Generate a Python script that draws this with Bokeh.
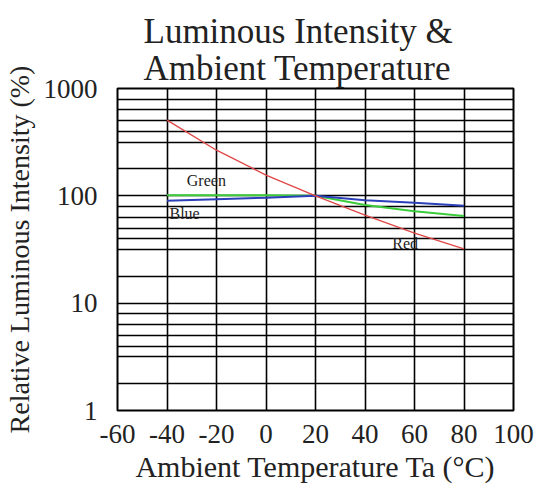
from bokeh.plotting import figure
from bokeh.models import FixedTicker
from bokeh.core.properties import value
from bokeh.embed import file_html
from bokeh.resources import INLINE

# Data
temp = [-40, -20, 0, 20, 40, 60, 80]
red = [507, 266, 156, 100, 66, 45, 32]
green = [101, 101, 101, 100, 82, 72, 65]
blue = [90, 93, 96, 100, 91, 86, 81]

x_ticks = [-60, -40, -20, 0, 20, 40, 60, 80, 100]
x_labels = ["-60", "-40", "-20", "0", "20", "40", "60", "80", "100"]
y_ticks = [1, 10, 100, 1000]
y_labels = ["1", "10", "100", "1000"]
# horizontal rules inside each decade, as drawn on the reference
minor_steps = [1.78, 3.16, 3.98, 5.01, 6.31, 7.94]
y_minor = [m * d for d in (1, 10, 100) for m in minor_steps]

SERIF = "Liberation Serif"
INK = "#222222"

p = figure(width=536, height=492, x_range=(-60, 100), y_range=(1, 1000),
           y_axis_type="log", output_backend="svg", toolbar_location=None,
           min_border_left=116, min_border_right=23, min_border_top=88,
           min_border_bottom=82)

p.title.text = "Luminous Intensity &\nAmbient Temperature"
p.title.align = "left"
p.title.offset = 26
p.title.standoff = 0
p.title.text_font = SERIF
p.title.text_font_size = "35px"
p.title.text_font_style = "normal"
p.title.text_line_height = 0.95
p.title.text_color = INK

p.outline_line_color = "black"
p.outline_line_width = 2
p.outline_line_alpha = 1

p.xaxis.ticker = FixedTicker(ticks=x_ticks)
p.xaxis.major_label_overrides = dict(zip(x_ticks, x_labels))
p.yaxis.ticker = FixedTicker(ticks=y_ticks, minor_ticks=y_minor)
p.yaxis.major_label_overrides = dict(zip(y_ticks, y_labels))

for ax in (p.xaxis[0], p.yaxis[0]):
    ax.axis_line_color = None
    ax.major_tick_line_color = None
    ax.minor_tick_line_color = None
    ax.major_label_text_font = SERIF
    ax.major_label_text_font_size = "27px"
    ax.major_label_text_color = INK
    ax.axis_label_text_font = SERIF
    ax.axis_label_text_font_style = "normal"
    ax.axis_label_text_color = INK

p.xaxis.axis_label = "Ambient Temperature Ta (\u00b0C)"
p.yaxis.axis_label = "Relative Luminous Intensity (%)"
p.xaxis.axis_label_text_font_size = "30px"
p.yaxis.axis_label_text_font_size = "28px"
p.xaxis.major_label_standoff = 8
p.yaxis.major_label_standoff = 14
p.xaxis.axis_label_standoff = 4
p.yaxis.axis_label_standoff = 6

p.xgrid.grid_line_color = "black"
p.xgrid.grid_line_width = 1.6
p.xgrid.grid_line_alpha = 1
p.ygrid.grid_line_color = "black"
p.ygrid.grid_line_width = 1.6
p.ygrid.grid_line_alpha = 1
p.ygrid.minor_grid_line_color = "black"
p.ygrid.minor_grid_line_width = 1.6
p.ygrid.minor_grid_line_alpha = 1

p.line(temp, green, line_color="#3ccc3c", line_width=2)
p.line(temp, blue, line_color="#2b3fb8", line_width=2)
p.line(temp, red, line_color="#e04848", line_width=1.4)

# Series labels
p.text(x=[-32], y=[138], text=["Green"], text_font=value(SERIF),
       text_font_size="16px", text_color=INK, text_baseline="alphabetic")
p.text(x=[-39], y=[69], text=["Blue"], text_font=value(SERIF),
       text_font_size="16px", text_color=INK, text_baseline="alphabetic")
p.text(x=[51], y=[36], text=["Red"], text_font=value(SERIF),
       text_font_size="16px", text_color=INK, text_baseline="alphabetic")

open("out.html", "w").write(file_html(p, INLINE))
